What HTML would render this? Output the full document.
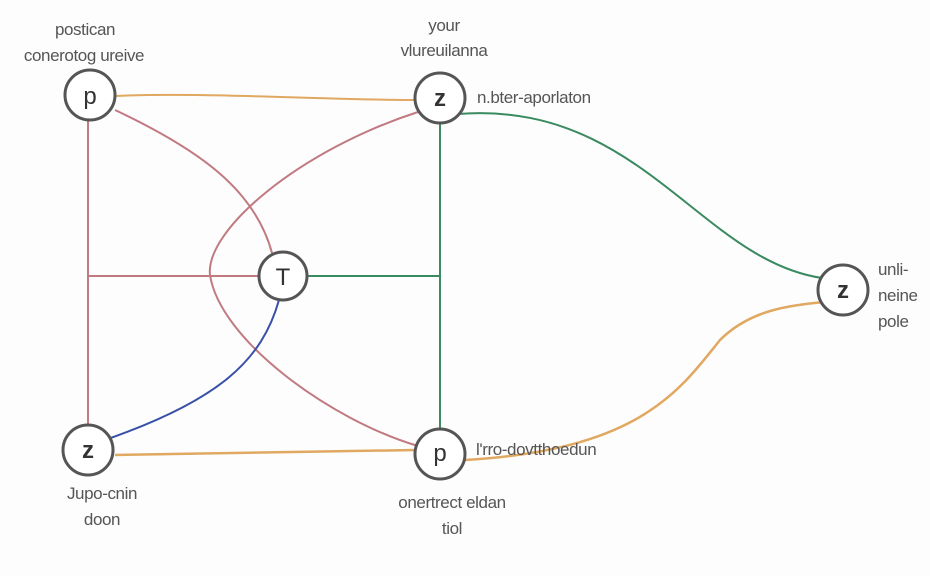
<!DOCTYPE html>
<html><head><style>
body{margin:0;background:#fff;}
svg{display:block;font-family:"Liberation Sans",sans-serif;}
.l{fill:#555;font-size:17px;letter-spacing:-0.4px;}
.n{fill:#333;font-size:24px;}
</style></head><body>
<svg width="930" height="576" viewBox="0 0 930 576">
<rect width="930" height="576" fill="#fdfdfd"/>
<g fill="none" stroke-width="2">
<path d="M115,96 C200,92 330,100 415,100" stroke="#e0a860"/>
<path d="M115,110 C200,150 255,190 272,253" stroke="#c07a80"/>
<path d="M418,112 C300,150 205,230 210,275 C220,340 330,420 418,446" stroke="#c07a80"/>
<path d="M88,120 L88,425" stroke="#c07a80"/>
<path d="M88,276 L259,276" stroke="#c07a80"/>
<path d="M307,276 L440,276" stroke="#3a8a60"/>
<path d="M440,123 L440,430" stroke="#3a8a60"/>
<path d="M458,114 C640,100 700,260 822,278" stroke="#3a8a60"/>
<path d="M105,440 C220,400 262,360 279,300" stroke="#3850a8"/>
<path d="M115,455 L415,450" stroke="#e0a860" stroke-width="2.5"/>
<path d="M465,460 C640,450 680,390 720,340 C750,310 790,305 825,302" stroke="#e0a860" stroke-width="2.5"/>
</g>
<g fill="#fff" stroke="#555" stroke-width="3">
<circle cx="90" cy="95" r="25"/>
<circle cx="440" cy="98" r="25"/>
<circle cx="283" cy="276" r="24"/>
<circle cx="843" cy="290" r="25"/>
<circle cx="88" cy="450" r="25"/>
<circle cx="440" cy="454" r="25"/>
</g>
<g text-anchor="middle">
<text class="n" x="90" y="104">p</text>
<text class="n" x="440" y="106" font-weight="bold">z</text>
<text class="n" x="283" y="285">T</text>
<text class="n" x="843" y="298" font-weight="bold">z</text>
<text class="n" x="88" y="458" font-weight="bold">z</text>
<text class="n" x="440" y="461">p</text>
</g>
<g text-anchor="middle">
<text class="l" x="85" y="35">postican</text>
<text class="l" x="84" y="61">conerotog ureive</text>
<text class="l" x="444" y="31">your</text>
<text class="l" x="444" y="56">vlureuilanna</text>
<text class="l" x="102" y="499">Jupo-cnin</text>
<text class="l" x="102" y="525">doon</text>
<text class="l" x="452" y="508">onertrect eldan</text>
<text class="l" x="452" y="534">tiol</text>
</g>
<g>
<text class="l" x="477" y="103">n.bter-aporlaton</text>
<text class="l" x="476" y="455">l'rro-dovtthoedun</text>
<text class="l" x="878" y="275">unli-</text>
<text class="l" x="878" y="301">neine</text>
<text class="l" x="878" y="327">pole</text>
</g>
</svg>
</body></html>
